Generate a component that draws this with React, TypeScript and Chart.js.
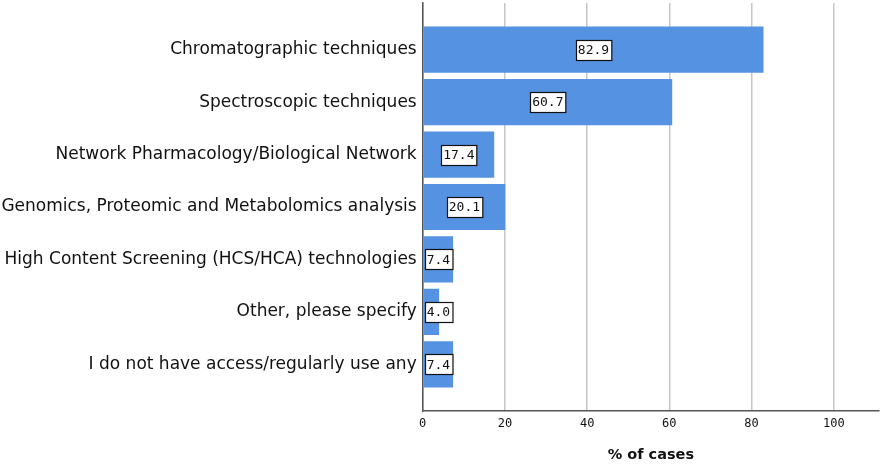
import { useEffect, useRef } from 'react';
import { Chart, registerables } from 'chart.js';

Chart.register(...registerables);

// categories, top to bottom
const CATEGORIES = [
  'Chromatographic techniques',
  'Spectroscopic techniques',
  'Network Pharmacology/Biological Network',
  'Genomics, Proteomic and Metabolomics analysis',
  'High Content Screening (HCS/HCA) technologies',
  'Other, please specify',
  'I do not have access/regularly use any',
];

// % of cases
const PERCENT = [82.9, 60.7, 17.4, 20.1, 7.4, 4.0, 7.4];

const X_TICKS = [0, 20, 40, 60, 80, 100];

const BAR_COLOR = '#5592e2';

// white boxed value in the middle of each bar
const valueBoxes = {
  id: 'valueBoxes',
  afterDatasetsDraw(chart: Chart) {
    const { ctx, chartArea } = chart;
    const meta = chart.getDatasetMeta(0);
    ctx.save();
    ctx.font = '13px "DejaVu Sans Mono"';
    ctx.textAlign = 'center';
    ctx.textBaseline = 'middle';
    meta.data.forEach((el, i) => {
      const { x, y, base } = el.getProps(['x', 'y', 'base'], true) as any;
      const txt = PERCENT[i].toFixed(1);
      const w = ctx.measureText(txt).width + 4;
      const h = 20;
      let cx = (x + base) / 2;
      cx = Math.max(cx, chartArea.left + 2 + w / 2);
      const left = Math.round(cx - w / 2) + 0.5;
      const top = Math.round(y - h / 2) + 0.5;
      ctx.fillStyle = '#ffffff';
      ctx.fillRect(left, top, w, h);
      ctx.strokeStyle = '#111111';
      ctx.lineWidth = 1.2;
      ctx.strokeRect(left, top, w, h);
      ctx.fillStyle = '#111111';
      ctx.fillText(txt, cx, y + 1);
    });
    ctx.restore();
  },
};

export default function App() {
  const canvasRef = useRef<HTMLCanvasElement>(null);
  const chartRef = useRef<Chart | null>(null);

  useEffect(() => {
    if (!canvasRef.current) return;
    if (chartRef.current) chartRef.current.destroy();

    chartRef.current = new Chart(canvasRef.current, {
      type: 'bar',
      data: {
        datasets: [
          {
            data: PERCENT.map((v, i) => ({ x: v, y: i })),
            backgroundColor: BAR_COLOR,
            borderWidth: 0,
            barPercentage: 0.88,
            categoryPercentage: 1,
          },
        ],
      },
      plugins: [valueBoxes],
      options: {
        indexAxis: 'y',
        animation: false,
        responsive: true,
        maintainAspectRatio: false,
        layout: { padding: { top: 3, right: 7, left: 0, bottom: 0 } },
        plugins: {
          legend: { display: false },
          tooltip: { enabled: false },
        },
        scales: {
          x: {
            type: 'linear',
            min: 0,
            max: 111,
            afterBuildTicks: (scale) => {
              scale.ticks = X_TICKS.map((v) => ({ value: v }));
            },
            afterFit: (scale) => {
              scale.height = 55;
            },
            grid: { color: '#c6c6c6', lineWidth: 1.5, drawTicks: false },
            border: { display: true, color: '#555555', width: 1.5 },
            ticks: {
              padding: 6,
              color: '#111111',
              font: { family: '"DejaVu Sans Mono"', size: 12 },
            },
            title: {
              display: true,
              text: '% of cases',
              color: '#111111',
              font: { family: '"DejaVu Sans"', size: 14.5, weight: 'bold' },
              padding: { top: 0, bottom: 2 },
            },
          },
          y: {
            type: 'linear',
            reverse: true,
            offset: false,
            min: -0.89,
            max: 6.89,
            afterBuildTicks: (scale) => {
              scale.ticks = CATEGORIES.map((_, i) => ({ value: i }));
            },
            afterFit: (scale: any) => {
              scale.width = 422.7;
              scale.paddingTop = 0;
              scale.paddingBottom = 0;
            },
            grid: { display: false, drawTicks: false, offset: false },
            border: { display: true, color: '#555555', width: 1.5 },
            ticks: {
              padding: 6,
              color: '#111111',
              font: { family: '"DejaVu Sans"', size: 17 },
              callback: (v) => CATEGORIES[Number(v)] ?? '',
            },
          },
        },
      },
    });

    return () => {
      chartRef.current?.destroy();
      chartRef.current = null;
    };
  }, []);

  return (
    <div style={{ position: 'absolute', left: 0, top: 0, width: 886, height: 466, background: '#ffffff' }}>
      <canvas ref={canvasRef} />
    </div>
  );
}
